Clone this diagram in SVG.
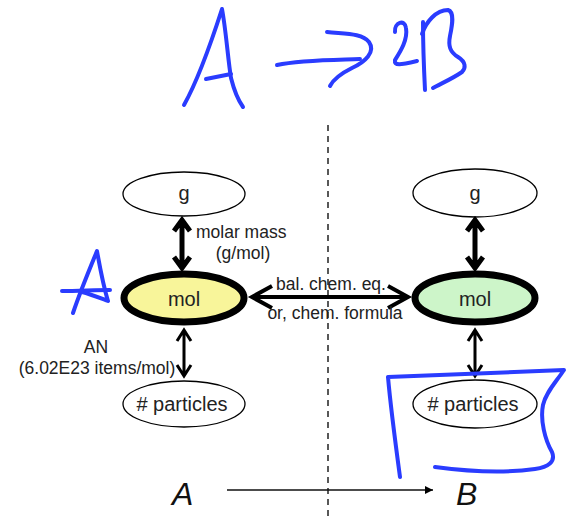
<svg xmlns="http://www.w3.org/2000/svg" width="575" height="518" viewBox="0 0 575 518">
  <style>
    .node { fill: #ffffff; stroke: #000; stroke-width: 1.3; }
    .big { stroke: #000; stroke-width: 7; }
    .label { font-family: "Liberation Sans", Arial, sans-serif; fill: #222; }
    .nodetext { font-size: 20px; text-anchor: middle; }
    .edgetext { font-size: 17.5px; }
    .thick { fill: none; stroke: #000; stroke-width: 5; stroke-linejoin: miter; }
    .thin { fill: none; stroke: #000; stroke-width: 3; }
    .ink { fill: none; stroke: #2a3cff; stroke-width: 4; stroke-linecap: round; stroke-linejoin: round; }
    .big-letter { font-family: "Liberation Sans", Arial, sans-serif; font-style: italic; font-size: 32px; fill: #111; }
  </style>
  <defs>
    <marker id="tri" viewBox="0 0 10 10" refX="10" refY="5" markerWidth="10" markerHeight="8" markerUnits="userSpaceOnUse" orient="auto">
      <path d="M0,0 L10,5 L0,10 z" fill="#000"/>
    </marker>
  </defs>

  <rect width="575" height="518" fill="#fff"/>

  <!-- divider between reactant and product sides -->
  <line x1="328" y1="125" x2="328" y2="518" stroke="#222" stroke-width="1.5" stroke-dasharray="6,5"/>

  <!-- left side: A -->
  <g id="g-left">
    <ellipse class="node" cx="184" cy="194" rx="61" ry="22"/>
    <text class="label nodetext" x="184" y="200">g</text>
  </g>
  <g id="mol-left">
    <ellipse class="big" fill="#f8f59a" cx="184" cy="298" rx="60" ry="24"/>
    <text class="label nodetext" x="184" y="306">mol</text>
  </g>
  <g id="particles-left">
    <ellipse class="node" cx="184" cy="404" rx="61" ry="23"/>
    <text class="label nodetext" x="182" y="411">#  particles</text>
  </g>

  <!-- right side: B -->
  <g id="g-right">
    <ellipse class="node" cx="475" cy="193" rx="62" ry="24"/>
    <text class="label nodetext" x="475" y="200">g</text>
  </g>
  <g id="mol-right">
    <ellipse class="big" fill="#cdf5c9" cx="475" cy="298" rx="60" ry="24"/>
    <text class="label nodetext" x="475" y="306">mol</text>
  </g>
  <g id="particles-right">
    <ellipse class="node" cx="475" cy="404" rx="62" ry="24"/>
    <text class="label nodetext" x="473" y="411">#  particles</text>
  </g>

  <!-- connectors -->
  <g id="connectors">
    <!-- g <-> mol (left) -->
    <path class="thick" d="M182,220 L182,268 M174,231 L182,220 L190,231 M174,257 L182,268 L190,257"/>
    <!-- mol <-> particles (left) -->
    <path class="thin" d="M184,330 L184,376 M177,341 L184,330 L191,341 M177,365 L184,376 L191,365"/>
    <!-- mol <-> mol -->
    <path class="thick" style="stroke-width:4" d="M252,297 L408,297 M272,286 L252,297 L272,308 M388,286 L408,297 L388,308"/>
    <!-- g <-> mol (right) -->
    <path class="thick" d="M475,220 L475,268 M467,231 L475,220 L483,231 M467,257 L475,268 L483,257"/>
    <!-- mol <-> particles (right) -->
    <path class="thin" d="M475,330 L475,376 M468,341 L475,330 L482,341 M468,365 L475,376 L482,365"/>
    <!-- A -> B -->
    <line x1="227" y1="490" x2="433" y2="490" stroke="#111" stroke-width="1.6" marker-end="url(#tri)"/>
  </g>

  <!-- edge labels -->
  <text class="label edgetext" x="196" y="238">molar mass</text>
  <text class="label edgetext" x="243" y="259" text-anchor="middle">(g/mol)</text>
  <text class="label edgetext" x="96" y="353" text-anchor="middle">AN</text>
  <text class="label edgetext" x="97" y="374" text-anchor="middle">(6.02E23 items/mol)</text>
  <text class="label edgetext" x="331" y="290" text-anchor="middle">bal. chem. eq.</text>
  <text class="label edgetext" x="335" y="319" text-anchor="middle">or, chem. formula</text>

  <!-- species letters -->
  <text class="big-letter" x="172" y="505">A</text>
  <text class="big-letter" x="456" y="505">B</text>

  <!-- handwritten annotations -->
  <g id="ink">
    <!-- A -->
    <path class="ink" d="M184,105 C198,80 212,40 222,9 C226,30 228,60 231,78 C234,90 238,100 243,107"/>
    <path class="ink" d="M206,79 L231,74"/>
    <!-- arrow -->
    <path class="ink" d="M277,65 C300,60 330,60 360,59"/>
    <path class="ink" d="M327,32 C345,34 362,33 369,42 C376,52 365,62 352,68 C342,73 334,78 330,86"/>
    <!-- 2 -->
    <path class="ink" d="M395,32 C394,22 405,19 406,28 C408,40 400,52 395,60 C394,66 400,65 417,61"/>
    <!-- B -->
    <path class="ink" d="M423,22 C423,45 424,70 425,90"/>
    <path class="ink" d="M422,34 C426,22 436,10 448,10 C455,12 452,26 450,36 C448,46 450,52 458,57 C466,62 466,68 462,72 C452,79 440,84 433,88"/>
    <!-- left A -->
    <path class="ink" d="M73,313 C80,292 90,268 97,251 C100,268 104,288 108,301 C100,298 90,294 82,292"/>
    <path class="ink" d="M62,291 C78,291 95,290 110,290"/>
    <!-- box around right particles -->
    <path class="ink" d="M400,477 C395,440 390,400 388,377 C450,375 510,372 564,370 C556,382 546,392 543,405 C540,420 545,440 552,452 C556,462 548,467 535,469 C500,474 465,471 435,467"/>
  </g>
</svg>
